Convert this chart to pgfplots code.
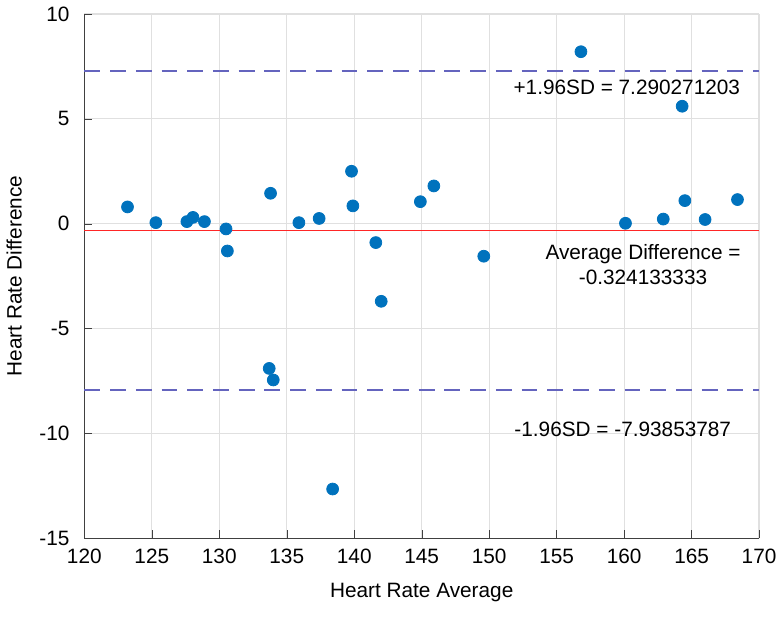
\documentclass[border=0pt]{standalone}
\usepackage{pgfplots}
\pgfplotsset{compat=1.18}
\usepackage{fontspec}
\setmainfont{Liberation Sans}
\definecolor{mblue}{RGB}{0,114,189}
\definecolor{sdblue}{RGB}{100,100,190}
\begin{document}
\begin{tikzpicture}
\begin{axis}[
    scale only axis,
    width=341pt, height=265pt,
    xmin=120, xmax=170, ymin=-15, ymax=10,
    xtick={120,125,...,170},
    ytick={-15,-10,-5,0,5,10},
    axis x line*=bottom, axis y line*=left,
    axis line style={black!75, -},
    tick align=inside,
    major tick length=4pt,
    tick style={black!75},
    grid=major,
    grid style={black!12, line width=0.6pt},
    xlabel={Heart Rate Average},
    ylabel={Heart Rate Difference},
    label style={font=\fontsize{10.5}{12}\selectfont},
    ylabel style={yshift=2pt},
    xlabel style={yshift=-3pt},
    tick label style={font=\fontsize{10.5}{12}\selectfont},
    yticklabel style={xshift=-4pt},
    xticklabel style={yshift=-2pt},
    /pgf/number format/assume math mode=true,
    clip=false,
]
% limits of agreement
\addplot[sdblue, line width=1pt, dash pattern=on 8pt off 5pt] coordinates {(120,7.290271203) (170,7.290271203)};
\addplot[sdblue, line width=1pt, dash pattern=on 8pt off 5pt] coordinates {(120,-7.93853787) (170,-7.93853787)};
% mean difference
\addplot[red!85, line width=1pt] coordinates {(120,-0.324133333) (170,-0.324133333)};
% measurements
\addplot[only marks, mark=*, mark size=3pt, mblue, mark options={draw=mblue, fill=mblue}] coordinates {
(123.2,0.8) (125.3,0.05) (127.6,0.1) (128.05,0.3) (128.9,0.1)
(130.5,-0.25) (130.6,-1.3) (133.8,1.45) (133.7,-6.9) (134.0,-7.45)
(135.9,0.05) (137.4,0.25) (139.8,2.5) (139.9,0.85) (141.6,-0.9)
(142.0,-3.7) (138.4,-12.65) (144.9,1.05) (145.9,1.8) (149.6,-1.55)
(156.8,8.2) (160.1,0.02) (162.9,0.22) (164.3,5.6) (164.5,1.1)
(166.0,0.2) (168.4,1.15)
};
\node[font=\fontsize{10.5}{12.5}\selectfont] at (axis cs:160.2,6.5) {+1.96SD = 7.290271203};
\node[font=\fontsize{10.5}{12.5}\selectfont, align=center] at (axis cs:161.4,-1.95) {Average Difference =\\-0.324133333};
\node[font=\fontsize{10.5}{12.5}\selectfont] at (axis cs:159.9,-9.8) {-1.96SD = -7.93853787};
\end{axis}
\path ([yshift=-6pt]current bounding box.south);
\end{tikzpicture}
\end{document}
